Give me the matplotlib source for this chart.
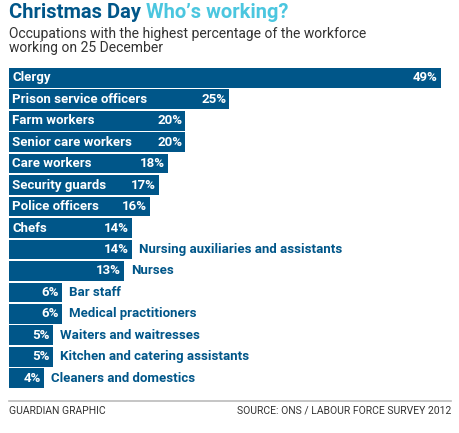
import matplotlib
matplotlib.use("Agg")
import matplotlib.pyplot as plt

categories = ["Clergy", "Prison service officers", "Farm workers", "Senior care workers",
              "Care workers", "Security guards", "Police officers", "Chefs",
              "Nursing auxiliaries and assistants", "Nurses", "Bar staff",
              "Medical practitioners", "Waiters and waitresses",
              "Kitchen and catering assistants", "Cleaners and domestics"]
values = [49, 25, 20, 20, 18, 17, 16, 14, 14, 13, 6, 6, 5, 5, 4]
label_inside = [True, True, True, True, True, True, True, True,
                False, False, False, False, False, False, False]

DARK = "#005689"
LIGHT = "#4bc6df"
W, H = 460, 433
fig = plt.figure(figsize=(W / 100, H / 100), dpi=100)
fig.patch.set_facecolor("white")

left_px, right_px, top_px, bot_px = 9, 441, 67, 389
ax = fig.add_axes([left_px / W, 1 - bot_px / H, (right_px - left_px) / W, (bot_px - top_px) / H])
ys = list(range(len(categories)))
ax.barh(ys, values, height=0.92, color=DARK, edgecolor="none")
ax.set_xlim(0, max(values))
ax.set_ylim(len(categories) - 0.5, -0.5)
ax.axis("off")

fam = ["Roboto", "DejaVu Sans"]
for y, cat, v, inside in zip(ys, categories, values, label_inside):
    ax.text(v - 0.35, y, f"{v}%", ha="right", va="center", color="white",
            fontsize=9.5, fontweight="bold", family=fam)
    if inside:
        ax.text(0.35, y, cat, ha="left", va="center", color="white",
                fontsize=9.5, fontweight="bold", family=fam)
    else:
        ax.text(v + 0.8, y, cat, ha="left", va="center", color=DARK,
                fontsize=9.5, fontweight="bold", family=fam, clip_on=False)

# Title
t1 = fig.text(9 / W, 1 - 12 / H, "Christmas Day", ha="left", va="center",
              color=DARK, fontsize=14.5, fontweight="bold", family=fam)
fig.canvas.draw()
bb = t1.get_window_extent()
fig.text((bb.x1 + 5) / W, 1 - 12 / H, "Who\u2019s working?", ha="left", va="center",
         color=LIGHT, fontsize=14.5, fontweight="bold", family=fam)
fig.text(9 / W, 1 - 41 / H, "Occupations with the highest percentage of the workforce\nworking on 25 December",
         ha="left", va="center", color="#333333", fontsize=10, family=fam,
         linespacing=1.05)

# Footer
fig.add_artist(plt.Line2D([9 / W, 451 / W], [1 - 401 / H, 1 - 401 / H], color="#bbbbbb", lw=1.2))
fig.text(9 / W, 1 - 411 / H, "GUARDIAN GRAPHIC", ha="left", va="center",
         color="#333333", fontsize=7.5, family=fam)
fig.text(451 / W, 1 - 411 / H, "SOURCE: ONS / LABOUR FORCE SURVEY 2012", ha="right", va="center",
         color="#333333", fontsize=7.5, family=fam)

fig.savefig("out.png", dpi=100, facecolor="white")
